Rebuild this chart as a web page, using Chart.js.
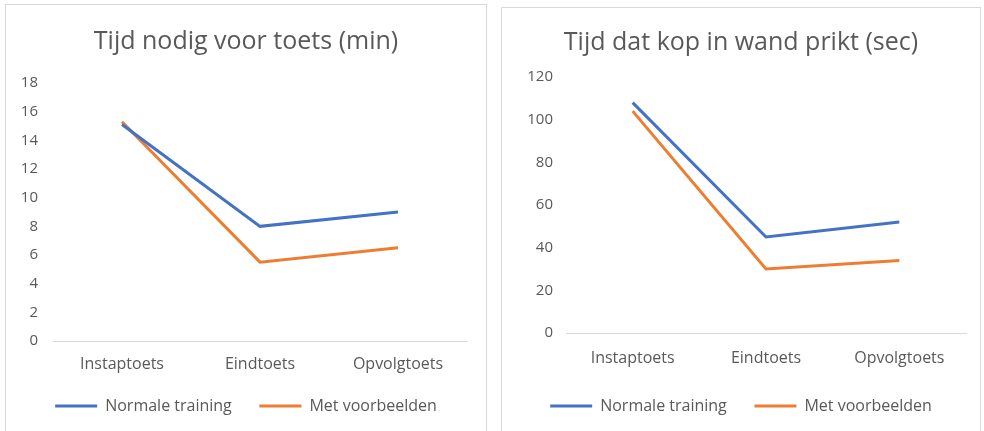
<!DOCTYPE html>
<html>
<head>
<meta charset="utf-8">
<script src="https://cdn.jsdelivr.net/npm/chart.js@4.4.1/dist/chart.umd.min.js"></script>
<style>
    body { margin: 0; background: #ffffff; }
    .panel { position: absolute; border: 1px solid #d9d9d9; background: #ffffff; }
    #leftPanel { left: 5px; top: 4px; width: 480px; height: 428px; }
    #rightPanel { left: 501px; top: 7px; width: 478px; height: 425px; }
</style>
</head>
<body>
<div class="panel" id="leftPanel"><canvas id="left"></canvas></div>
<div class="panel" id="rightPanel"><canvas id="right"></canvas></div>
<script>
const categories = ['Instaptoets', 'Eindtoets', 'Opvolgtoets'];
const seriesNames = ['Normale training', 'Met voorbeelden'];

// left chart: minutes
const minutesNormaal = [15.1, 8.0, 9.0];
const minutesVoorbeelden = [15.3, 5.5, 6.5];
const minutesTicks = [0, 2, 4, 6, 8, 10, 12, 14, 16, 18];

// right chart: seconds
const secondsNormaal = [108, 45, 52];
const secondsVoorbeelden = [104, 30, 34];
const secondsTicks = [0, 20, 40, 60, 80, 100, 120];

const grey = '#595959';
const fontName = "'Open Sans', sans-serif";

function initLineChart(id, title, normaal, voorbeelden, ticks, box) {
    var ctx = document.getElementById(id).getContext('2d');
    return new Chart(ctx, {
        type: 'line',
        data: {
            labels: categories,
            datasets: [{
                label: seriesNames[0],
                data: normaal,
                borderColor: '#4472c4',
                backgroundColor: '#4472c4',
                borderWidth: 3,
                pointRadius: 0,
                tension: 0
            }, {
                label: seriesNames[1],
                data: voorbeelden,
                borderColor: '#ed7d31',
                backgroundColor: '#ed7d31',
                borderWidth: 3,
                pointRadius: 0,
                tension: 0
            }]
        },
        options: {
            responsive: true,
            maintainAspectRatio: false,
            animation: false,
            layout: { padding: { left: 0, right: 0, top: 0, bottom: 9 } },
            plugins: {
                title: {
                    display: true,
                    text: title,
                    color: grey,
                    font: { family: fontName, size: 25, weight: 'normal' },
                    padding: { top: box.titleTop, bottom: box.titleBottom }
                },
                legend: {
                    position: 'bottom',
                    labels: {
                        usePointStyle: true,
                        pointStyle: 'line',
                        pointStyleWidth: 42,
                        color: grey,
                        font: { family: fontName, size: 16 },
                        padding: 11,
                        generateLabels: function(chart) {
                            // wider gap between the two legend entries
                            var items = Chart.defaults.plugins.legend.labels.generateLabels(chart);
                            items[0].text = items[0].text + '    ';
                            return items;
                        }
                    }
                },
                tooltip: { enabled: false }
            },
            scales: {
                x: {
                    offset: true,
                    afterFit: function(scale) { scale.height = box.xHeight; },
                    grid: { display: false },
                    border: { display: true, color: '#d9d9d9', width: 1 },
                    ticks: { color: grey, font: { family: fontName, size: 16 }, padding: box.xPad }
                },
                y: {
                    min: ticks[0],
                    max: ticks[ticks.length - 1],
                    afterBuildTicks: function(scale) {
                        scale.ticks = ticks.map(function(v) { return { value: v }; });
                    },
                    afterFit: function(scale) { scale.width = box.yWidth; },
                    grid: { display: false },
                    border: { display: false },
                    ticks: { color: grey, font: { family: fontName, size: 15 }, padding: box.yPad }
                },
                // empty right-hand space, so title and legend stay centred on the panel
                spacer: {
                    type: 'linear',
                    position: 'right',
                    afterFit: function(scale) { scale.width = box.right; },
                    grid: { display: false },
                    border: { display: false },
                    ticks: { display: false }
                }
            }
        }
    });
}

initLineChart('left', 'Tijd nodig voor toets (min)', minutesNormaal, minutesVoorbeelden, minutesTicks,
    { right: 19, yWidth: 47, yPad: 7, xPad: 6, xHeight: 46, titleTop: 22, titleBottom: 26 });
initLineChart('right', 'Tijd dat kop in wand prikt (sec)', secondsNormaal, secondsVoorbeelden, secondsTicks,
    { right: 14, yWidth: 64, yPad: 5, xPad: 8, xHeight: 54, titleTop: 20, titleBottom: 19 });
</script>
</body>
</html>
